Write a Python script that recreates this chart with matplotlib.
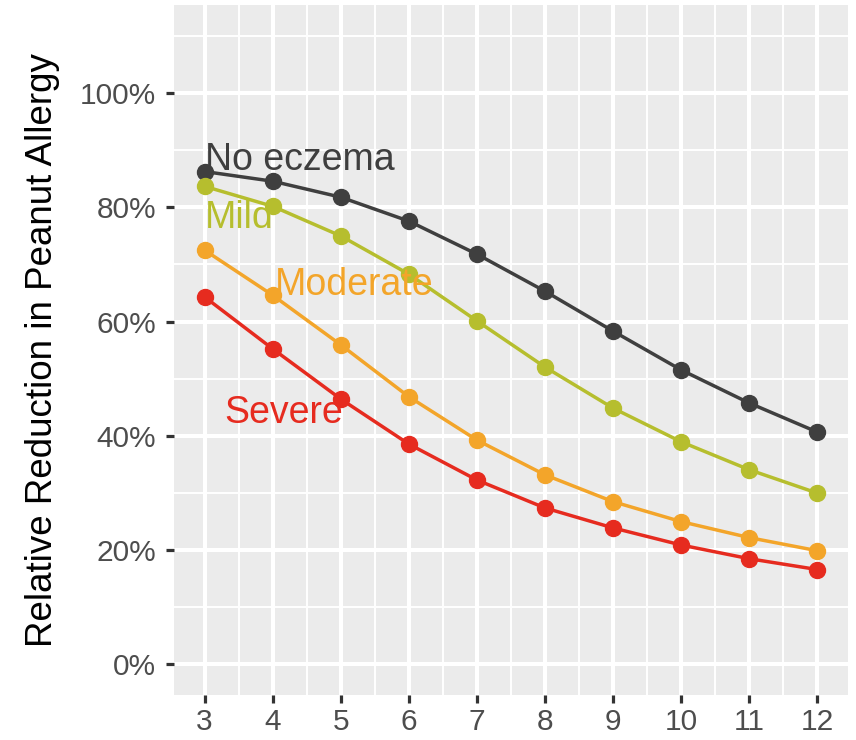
import matplotlib
matplotlib.use("Agg")
import matplotlib.pyplot as plt
from matplotlib.ticker import MultipleLocator, FuncFormatter

plt.rcParams['font.family'] = ['Liberation Sans', 'DejaVu Sans']

# age in months at introduction
ages = [3, 4, 5, 6, 7, 8, 9, 10, 11, 12]

# relative reduction (%)
no_eczema = [86.3, 84.6, 81.8, 77.6, 71.8, 65.3, 58.3, 51.5, 45.7, 40.6]
mild = [83.7, 80.2, 75.0, 68.3, 60.1, 52.0, 44.8, 38.9, 34.0, 29.9]
moderate = [72.5, 64.6, 55.9, 46.8, 39.2, 33.1, 28.4, 24.9, 22.1, 19.8]
severe = [64.3, 55.2, 46.4, 38.5, 32.2, 27.3, 23.8, 20.8, 18.4, 16.5]

series_names = ["No eczema", "Mild", "Moderate", "Severe"]
series_colors = ["#3f3f3f", "#b6be2e", "#f3a52a", "#e62b1f"]
# where each group's label sits (x, y)
label_x = [3.0, 3.0, 4.03, 3.29]
label_y = [88.3, 78.1, 66.4, 44.0]

fig = plt.figure(figsize=(8.56, 7.4), dpi=100)
ax = fig.add_axes([0.2033, 0.0608, 0.7874, 0.9324])
ax.set_facecolor("#ebebeb")

for vals, name, col, lx, ly in zip([no_eczema, mild, moderate, severe],
                                   series_names, series_colors, label_x, label_y):
    ax.plot(ages, vals, color=col, lw=2.5, marker="o", ms=11.5, zorder=3)
    ax.text(lx, ly, name, color=col, fontsize=27, ha="left", va="center", zorder=4)

ax.set_xlim(2.55, 12.45)
ax.set_ylim(-5.5, 115.5)
ax.xaxis.set_major_locator(MultipleLocator(1))
ax.xaxis.set_minor_locator(MultipleLocator(0.5))
ax.yaxis.set_major_locator(MultipleLocator(20))
ax.yaxis.set_minor_locator(MultipleLocator(10))
ax.yaxis.set_major_formatter(FuncFormatter(lambda v, p: f"{v:.0f}%"))

ax.grid(which="major", color="white", lw=2.9)
ax.grid(which="minor", color="white", lw=1.4)
ax.set_axisbelow(True)
for s in ax.spines.values():
    s.set_visible(False)

ax.tick_params(which="major", length=6, width=2.3, color="#333333",
               labelcolor="#4d4d4d", labelsize=21.5)
ax.tick_params(axis="y", which="major", pad=7)
ax.tick_params(axis="x", which="major", pad=3)
ax.tick_params(which="minor", length=0)

ax.set_ylabel("Relative Reduction in Peanut Allergy", fontsize=26.5, color="black", labelpad=14)

fig.savefig("out.png", dpi=100, facecolor="white")
